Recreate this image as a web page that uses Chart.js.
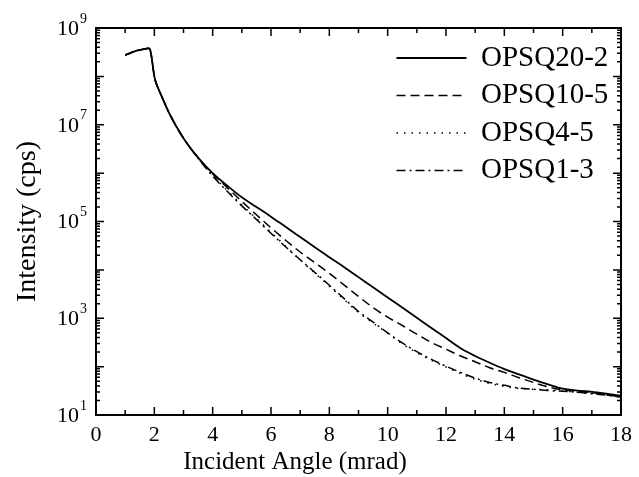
<!DOCTYPE html>
<html>
<head>
<meta charset="utf-8">
<script src="https://cdn.jsdelivr.net/npm/chart.js@4.4.0/dist/chart.umd.min.js"></script>
<style>
  html, body { margin: 0; padding: 0; background: #fff; }
  canvas { display: block; }
</style>
</head>
<body>
<canvas id="xrr" width="639" height="477"></canvas>
<script>
// incident angle (mrad)
const angles = [1.0, 1.2, 1.4, 1.6, 1.8, 1.85, 1.9, 2.0, 2.1, 2.2, 2.5, 3.0, 3.5, 4.0, 4.5, 5.0, 5.5, 6.0, 6.5, 7.0,
                7.5, 8.0, 8.5, 9.0, 9.5, 10.0, 10.5, 11.0, 11.5, 12.0, 12.5, 13.0, 13.5, 14.0, 14.5, 15.0, 15.5,
                16.0, 16.5, 17.0, 17.5, 18.0];

// intensity (cps)
const opsq20_2 = [2.75e8, 3.09e8, 3.39e8, 3.63e8, 3.80e8, 3.63e8, 2.63e8, 1.0e8, 6.31e7, 4.57e7, 1.78e7, 5.25e6,
                  2.09e6, 1.0e6, 5.5e5, 3.16e5, 2.0e5, 1.26e5, 7.76e4, 4.79e4, 2.95e4, 1.82e4, 1.15e4, 7.08e3,
                  4.37e3, 2.69e3, 1.66e3, 1.02e3, 631, 389, 240, 166, 120, 89, 69, 54, 43, 35, 32, 30, 27.5, 25];
const opsq10_5 = [2.75e8, 3.09e8, 3.39e8, 3.63e8, 3.80e8, 3.63e8, 2.63e8, 1.0e8, 6.31e7, 4.57e7, 1.78e7, 5.25e6,
                  2.09e6, 9.6e5, 5.0e5, 2.6e5, 1.38e5, 7.4e4, 4.1e4, 2.34e4, 1.41e4, 8.5e3, 4.9e3, 2.82e3,
                  1.66e3, 1.05e3, 708, 468, 316, 229, 166, 126, 95, 76, 59, 47, 38, 33, 31, 29, 26, 24];
const opsq4_5 = [2.75e8, 3.09e8, 3.39e8, 3.63e8, 3.80e8, 3.63e8, 2.63e8, 1.0e8, 6.31e7, 4.57e7, 1.78e7, 5.25e6,
                 2.05e6, 9.0e5, 4.4e5, 2.2e5, 1.15e5, 6.0e4, 3.1e4, 1.6e4, 8.6e3, 4.6e3, 2.45e3, 1.32e3,
                 794, 490, 295, 195, 135, 98, 72, 55, 45, 39, 35.5, 34, 33, 31.6, 29.5, 28, 26.3, 24];
const opsq1_3 = [2.75e8, 3.09e8, 3.39e8, 3.63e8, 3.80e8, 3.63e8, 2.63e8, 1.0e8, 6.31e7, 4.57e7, 1.78e7, 5.25e6,
                 2.02e6, 8.7e5, 4.2e5, 2.1e5, 1.1e5, 5.7e4, 3.0e4, 1.62e4, 8.9e3, 4.8e3, 2.57e3, 1.38e3,
                 832, 501, 309, 204, 141, 102, 76, 58, 47, 41, 36, 34, 32, 31, 29.5, 27.5, 25.7, 23.4];

const seriesNames = ['OPSQ20-2', 'OPSQ10-5', 'OPSQ4-5', 'OPSQ1-3'];
const yLabelPowers = [1, 3, 5, 7, 9];

const serif = "'Liberation Serif', 'Times New Roman', serif";
Chart.defaults.font.family = serif;
Chart.defaults.color = '#000';

function pts(vals) {
  return angles.map((a, i) => ({ x: a, y: vals[i] }));
}

function curve(label, vals, dash, width) {
  return {
    label: label,
    data: pts(vals),
    borderColor: '#000',
    backgroundColor: '#000',
    borderWidth: width,
    borderDash: dash,
    pointRadius: 0,
    fill: false,
    cubicInterpolationMode: 'monotone',
  };
}

// frame, inward ticks, superscript tick labels, x title
const axesFrame = {
  id: 'axesFrame',
  afterLayout(chart) {
    const lg = chart.legend;
    lg.left = 388; lg.right = lg.left + lg.width;
    lg.top = 35; lg.bottom = lg.top + lg.height;
  },
  afterDraw(chart) {
    const { ctx, chartArea: ca, scales: { x, y } } = chart;
    ctx.save();
    ctx.strokeStyle = '#000';
    ctx.lineWidth = 2;
    ctx.strokeRect(ca.left, ca.top, ca.right - ca.left, ca.bottom - ca.top);

    ctx.lineWidth = 1.5;
    ctx.beginPath();
    for (let v = 0; v <= 18; v++) {
      const px = x.getPixelForValue(v);
      const len = v % 2 ? 5 : 8;
      ctx.moveTo(px, ca.bottom); ctx.lineTo(px, ca.bottom - len);
      ctx.moveTo(px, ca.top); ctx.lineTo(px, ca.top + len);
    }
    for (let e = 1; e <= 9; e++) {
      const py = y.getPixelForValue(Math.pow(10, e));
      ctx.moveTo(ca.left, py); ctx.lineTo(ca.left + 8, py);
      ctx.moveTo(ca.right, py); ctx.lineTo(ca.right - 8, py);
      if (e < 9) {
        for (let m = 2; m <= 9; m++) {
          const pm = y.getPixelForValue(m * Math.pow(10, e));
          ctx.moveTo(ca.left, pm); ctx.lineTo(ca.left + 4, pm);
          ctx.moveTo(ca.right, pm); ctx.lineTo(ca.right - 4, pm);
        }
      }
    }
    ctx.stroke();

    ctx.fillStyle = '#000';
    yLabelPowers.forEach(e => {
      const py = y.getPixelForValue(Math.pow(10, e));
      ctx.font = '22px ' + serif;
      ctx.textAlign = 'right';
      ctx.textBaseline = 'middle';
      ctx.fillText('10', 79, py + 1);
      ctx.font = '14px ' + serif;
      ctx.textAlign = 'left';
      ctx.fillText(String(e), 80, py - 9);
    });

    ctx.font = '25px ' + serif;
    ctx.textAlign = 'center';
    ctx.textBaseline = 'middle';
    ctx.fillText('Incident Angle (mrad)', 295, 462);
    ctx.restore();
  }
};

new Chart(document.getElementById('xrr'), {
  type: 'line',
  data: {
    datasets: [
      curve(seriesNames[0], opsq20_2, [], 1.8),
      curve(seriesNames[1], opsq10_5, [9, 5], 1.5),
      curve(seriesNames[2], opsq4_5, [1.5, 6], 1.5),
      curve(seriesNames[3], opsq1_3, [9, 4, 2, 4], 1.5),
    ],
  },
  options: {
    responsive: false,
    devicePixelRatio: 1,
    animation: false,
    layout: { padding: { top: 28, right: 13, left: 0, bottom: 0 } },
    plugins: {
      tooltip: { enabled: false },
      legend: {
        position: 'chartArea',
        align: 'start',
        labels: {
          usePointStyle: true,
          pointStyle: 'line',
          pointStyleWidth: 70,
          padding: 8.5,
          font: { size: 29 },
          color: '#000',
          generateLabels(chart) {
            const items = Chart.defaults.plugins.legend.labels.generateLabels(chart);
            items.forEach(it => {
              const ds = chart.data.datasets[it.datasetIndex];
              it.lineDash = ds.borderDash;
              it.lineWidth = ds.borderWidth;
            });
            return items;
          },
        },
      },
    },
    scales: {
      x: {
        type: 'linear',
        min: 0,
        max: 18,
        grid: { display: false, drawTicks: false },
        border: { display: false },
        ticks: { stepSize: 2, padding: 7, font: { size: 22 }, color: '#000', maxRotation: 0 },
        afterFit(scale) { scale.height = 62; },
      },
      y: {
        type: 'logarithmic',
        min: 10,
        max: 1e9,
        grid: { display: false, drawTicks: false },
        border: { display: false },
        ticks: { display: false },
        title: { display: true, text: 'Intensity (cps)', font: { size: 28 }, color: '#000', padding: { top: 11 } },
        afterFit(scale) { scale.width = 96; },
      },
    },
  },
  plugins: [axesFrame],
});
</script>
</body>
</html>
